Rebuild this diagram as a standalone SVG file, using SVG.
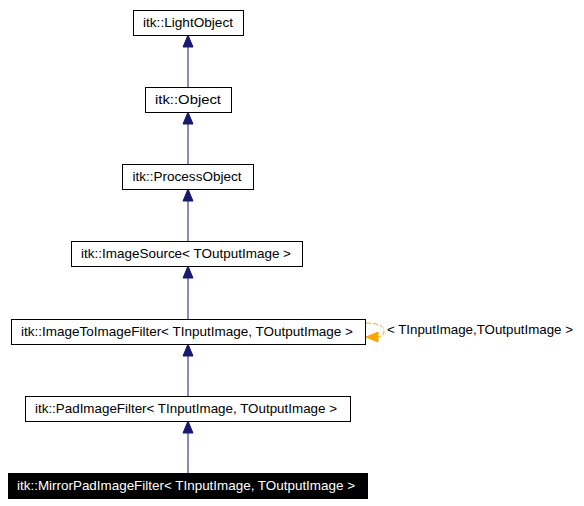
<svg xmlns="http://www.w3.org/2000/svg" width="584" height="506" viewBox="0 0 584 506">
<style>
.box{fill:#ffffff;stroke:#000000;stroke-width:1}
.sel{fill:#000000;stroke:#000000;stroke-width:1}
text{font-family:"Liberation Sans",Arial,sans-serif;font-size:13px;fill:#000000;text-anchor:middle}
.w{fill:#ffffff}
.edge{stroke:#191970;stroke-width:1;fill:none}
.ah{fill:#191970;stroke:#191970}
.tmpl{stroke:#ffa500;stroke-width:1;fill:none;stroke-dasharray:5,2}
.ah2{fill:#ffa500;stroke:#ffa500}
</style>
<rect width="584" height="506" fill="#ffffff"/>
<g id="edges">
<path class="edge" d="M188,87 V46"/><polygon class="ah" points="188,35 183,47 193,47"/>
<path class="edge" d="M188,164 V123"/><polygon class="ah" points="188,112 183,124 193,124"/>
<path class="edge" d="M188,241 V200"/><polygon class="ah" points="188,189 183,201 193,201"/>
<path class="edge" d="M188,319 V277"/><polygon class="ah" points="188,266 183,278 193,278"/>
<path class="edge" d="M188,396 V355"/><polygon class="ah" points="188,344 183,356 193,356"/>
<path class="edge" d="M188,473 V432"/><polygon class="ah" points="188,421 183,433 193,433"/>
<path class="tmpl" d="M366,323 C378,323 384,326 384,331 C384,335 381,337 376,337"/>
<polygon class="ah2" points="366,337 378,332 378,342"/>
<text x="387" y="334" style="text-anchor:start" textLength="186" lengthAdjust="spacingAndGlyphs">&lt; TInputImage,TOutputImage &gt;</text>
</g>
<g id="n_lightobject"><rect class="box" x="133.5" y="10.5" width="110" height="25"/><text x="188" y="27" textLength="90" lengthAdjust="spacingAndGlyphs">itk::LightObject</text></g>
<g id="n_object"><rect class="box" x="145.5" y="87.5" width="86" height="25"/><text x="188" y="104" textLength="66" lengthAdjust="spacingAndGlyphs">itk::Object</text></g>
<g id="n_processobject"><rect class="box" x="122.5" y="164.5" width="131" height="25"/><text x="187" y="181" textLength="109" lengthAdjust="spacingAndGlyphs">itk::ProcessObject</text></g>
<g id="n_imagesource"><rect class="box" x="71.5" y="241.5" width="231" height="25"/><text x="186" y="258" textLength="210" lengthAdjust="spacingAndGlyphs">itk::ImageSource&lt; TOutputImage &gt;</text></g>
<g id="n_imagetoimagefilter"><rect class="box" x="11.5" y="319.5" width="354" height="25"/><text x="187" y="336" textLength="332" lengthAdjust="spacingAndGlyphs">itk::ImageToImageFilter&lt; TInputImage, TOutputImage &gt;</text></g>
<g id="n_padimagefilter"><rect class="box" x="25.5" y="396.5" width="325" height="25"/><text x="186" y="413" textLength="302" lengthAdjust="spacingAndGlyphs">itk::PadImageFilter&lt; TInputImage, TOutputImage &gt;</text></g>
<g id="n_mirrorpadimagefilter"><rect class="sel" x="8.5" y="473.5" width="359" height="25"/><text class="w" x="186" y="490" textLength="338" lengthAdjust="spacingAndGlyphs">itk::MirrorPadImageFilter&lt; TInputImage, TOutputImage &gt;</text></g>
</svg>
